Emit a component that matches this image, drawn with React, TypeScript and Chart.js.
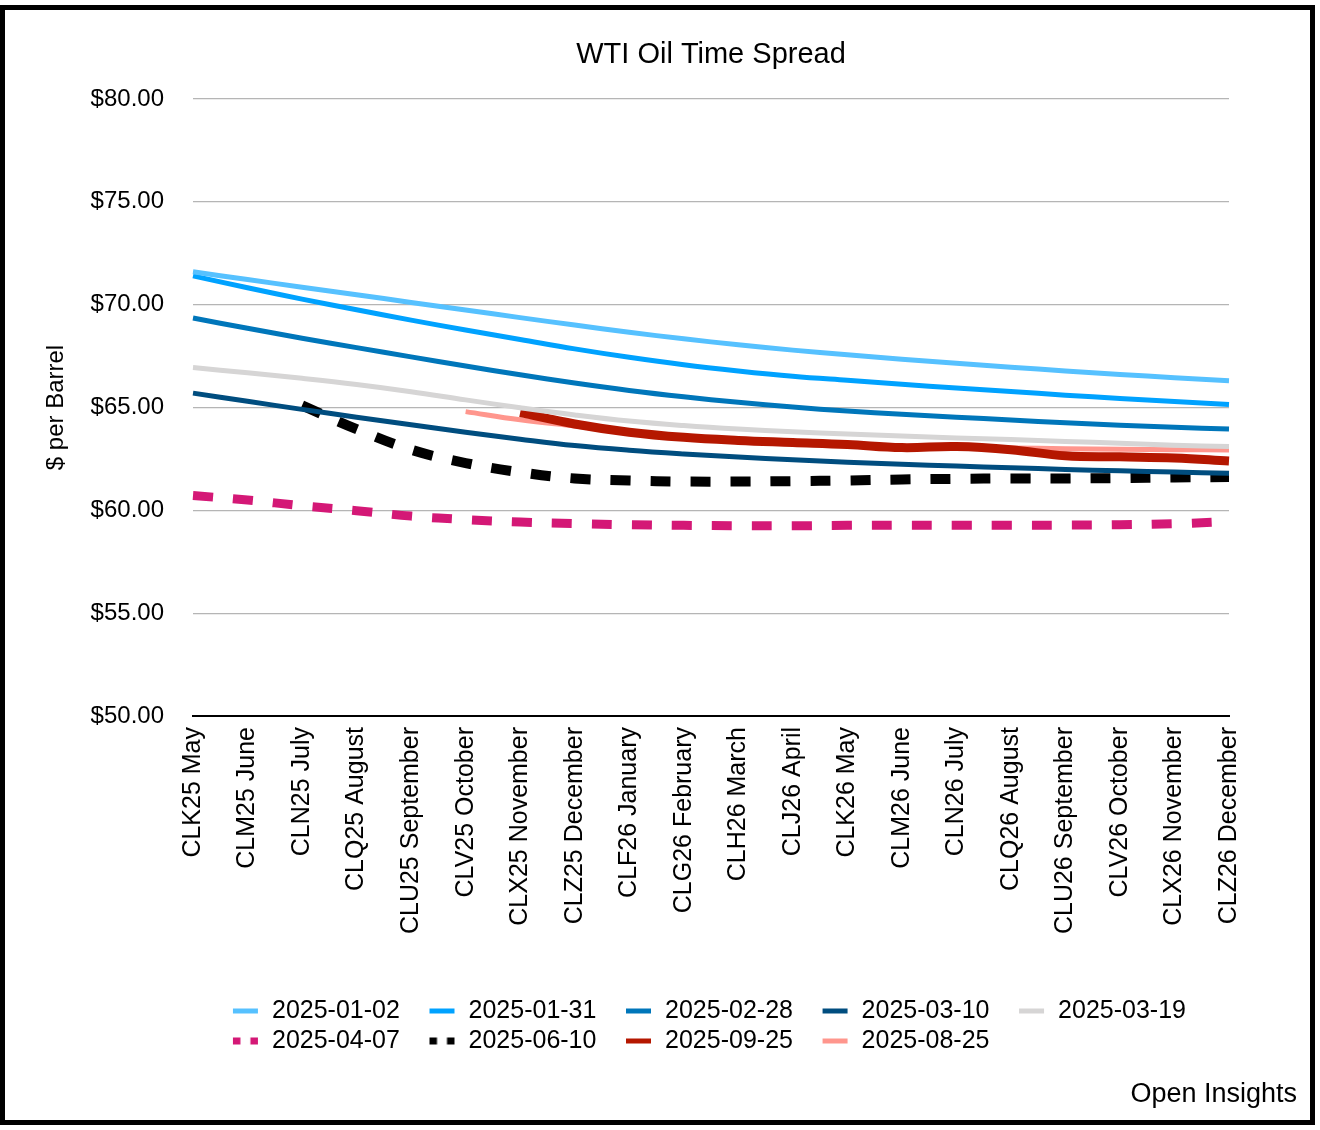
import { useEffect, useRef } from 'react';
import { Chart, registerables } from 'chart.js';

Chart.register(...registerables);
Chart.defaults.font.family = "'Liberation Sans', Arial, Helvetica, sans-serif";
Chart.defaults.color = '#000';

const CATEGORIES = [
  'CLK25 May', 'CLM25 June', 'CLN25 July', 'CLQ25 August', 'CLU25 September',
  'CLV25 October', 'CLX25 November', 'CLZ25 December', 'CLF26 January', 'CLG26 February',
  'CLH26 March', 'CLJ26 April', 'CLK26 May', 'CLM26 June', 'CLN26 July',
  'CLQ26 August', 'CLU26 September', 'CLV26 October', 'CLX26 November', 'CLZ26 December',
];

const SERIES_NAMES = [
  '2025-01-02', '2025-01-31', '2025-02-28', '2025-03-10', '2025-03-19',
  '2025-04-07', '2025-06-10', '2025-09-25', '2025-08-25',
];

const S_2025_01_02 = [71.6, 71.22, 70.85, 70.48, 70.11, 69.74, 69.37, 69.01, 68.66, 68.34, 68.05, 67.79, 67.56, 67.35, 67.15, 66.96, 66.78, 66.61, 66.45, 66.3];
const S_2025_01_31 = [71.4, 70.82, 70.27, 69.75, 69.25, 68.77, 68.31, 67.85, 67.44, 67.08, 66.78, 66.52, 66.32, 66.13, 65.95, 65.78, 65.6, 65.44, 65.29, 65.15];
const S_2025_02_28 = [69.35, 68.85, 68.37, 67.91, 67.46, 67.02, 66.59, 66.19, 65.83, 65.52, 65.25, 65.02, 64.83, 64.67, 64.53, 64.39, 64.26, 64.14, 64.04, 63.95];
const S_2025_03_10 = [65.7, 65.3, 64.91, 64.53, 64.16, 63.8, 63.46, 63.15, 62.92, 62.74, 62.59, 62.46, 62.34, 62.24, 62.15, 62.07, 61.99, 61.92, 61.86, 61.8];
const S_2025_03_19 = [66.94, 66.69, 66.42, 66.12, 65.77, 65.37, 64.99, 64.64, 64.34, 64.12, 63.95, 63.82, 63.71, 63.61, 63.52, 63.44, 63.35, 63.26, 63.17, 63.1];
const S_2025_04_07 = [60.72, 60.5, 60.22, 59.98, 59.72, 59.55, 59.43, 59.36, 59.3, 59.27, 59.25, 59.25, 59.27, 59.28, 59.28, 59.28, 59.28, 59.3, 59.35, 59.45];
const S_2025_06_10 = [null, null, 65.1, 63.95, 62.95, 62.3, 61.85, 61.55, 61.45, 61.4, 61.4, 61.42, 61.45, 61.5, 61.53, 61.55, 61.55, 61.57, 61.6, 61.62];
const S_2025_09_25 = [null, null, null, null, null, null, 64.75, 64.2, 63.8, 63.55, 63.4, 63.3, 63.2, 63.05, 63.1, 62.95, 62.65, 62.6, 62.55, 62.4];
const S_2025_08_25 = [null, null, null, null, null, 64.8, 64.4, 64.1, 63.8, 63.55, 63.4, 63.3, 63.2, 63.12, 63.08, 63.03, 63.0, 62.97, 62.95, 62.93];

const SERIES_VALUES = [
  S_2025_01_02, S_2025_01_31, S_2025_02_28, S_2025_03_10, S_2025_03_19,
  S_2025_04_07, S_2025_06_10, S_2025_09_25, S_2025_08_25,
];

const Y_MIN = 50;
const Y_MAX = 80;
const Y_STEP = 5;

const STYLES = [
  { color: '#56C1FF', width: 5, dash: [] as number[] },
  { color: '#00A2FF', width: 5, dash: [] as number[] },
  { color: '#0076BA', width: 5, dash: [] as number[] },
  { color: '#004D7F', width: 5, dash: [] as number[] },
  { color: '#D6D5D5', width: 5, dash: [] as number[] },
  { color: '#D41876', width: 9, dash: [20, 20] },
  { color: '#000000', width: 10, dash: [20, 20] },
  { color: '#B51700', width: 9, dash: [] as number[] },
  { color: '#FF968D', width: 5, dash: [] as number[] },
];

function makeMarker(color: string, dashed: boolean) {
  const c = document.createElement('canvas');
  c.width = 50;
  c.height = 10;
  const ctx = c.getContext('2d')!;
  ctx.strokeStyle = color;
  ctx.lineWidth = dashed ? 7 : 5;
  ctx.lineCap = 'butt';
  if (dashed) ctx.setLineDash([7.5, 10]);
  ctx.beginPath();
  ctx.moveTo(24, 5);
  ctx.lineTo(49, 5);
  ctx.stroke();
  return c;
}

const legendShift = {
  id: 'legendShift',
  afterLayout(chart: any) {
    const lg = chart.legend;
    if (lg) {
      lg.left += 10.35;
      lg.right += 10.35;
    }
  },
};

export default function App() {
  const ref = useRef<HTMLCanvasElement | null>(null);

  useEffect(() => {
    if (!ref.current) return;
    const markers = STYLES.map((s) => makeMarker(s.color, s.dash.length > 0));
    const chart = new Chart(ref.current, {
      type: 'line',
      data: {
        labels: CATEGORIES,
        datasets: SERIES_NAMES.map((name, i) => ({
          label: name,
          data: SERIES_VALUES[i],
          borderColor: STYLES[i].color,
          backgroundColor: STYLES[i].color,
          borderWidth: STYLES[i].width,
          borderDash: STYLES[i].dash,
          borderCapStyle: 'butt',
          borderJoinStyle: 'round',
          pointRadius: 0,
          pointHoverRadius: 0,
          fill: false,
          tension: 0.4,
          spanGaps: false,
        })),
      },
      options: {
        responsive: false,
        animation: false,
        events: [],
        layout: { padding: { left: 0, right: 91, top: 0, bottom: 66.5 } },
        plugins: {
          title: {
            display: true,
            fullSize: false,
            text: 'WTI Oil Time Spread',
            color: '#000',
            font: { size: 29, weight: 'normal' },
            padding: { top: 37.6, bottom: 26.6 },
          },
          legend: {
            position: 'bottom',
            align: 'start',
            fullSize: false,
            labels: {
              usePointStyle: true,
              pointStyleWidth: 51.15,
              padding: 5,
              color: '#000',
              font: { size: 25 },
              generateLabels: (c: any) =>
                (Chart.defaults.plugins.legend.labels as any)
                  .generateLabels(c)
                  .map((item: any) => ({ ...item, pointStyle: markers[item.datasetIndex] })),
            },
          },
          tooltip: { enabled: false },
        },
        scales: {
          x: {
            type: 'category',
            grid: { display: false, drawTicks: false },
            border: { display: true, color: '#000', width: 2 },
            ticks: {
              autoSkip: false,
              maxRotation: 90,
              minRotation: 90,
              padding: 11,
              color: '#000',
              font: { size: 25 },
            },
            afterFit: (s: any) => {
              s.height = 277.5;
            },
          },
          y: {
            min: Y_MIN,
            max: Y_MAX,
            ticks: {
              stepSize: Y_STEP,
              padding: 29,
              color: '#000',
              font: { size: 24 },
              callback: (v: any) => '$' + Number(v).toFixed(2),
            },
            grid: { color: '#b5b5b5', lineWidth: 1.3, drawTicks: false },
            border: { display: false },
            title: {
              display: true,
              text: '$ per Barrel',
              color: '#000',
              font: { size: 24 },
              padding: { top: 42, bottom: 0 },
            },
            afterFit: (s: any) => {
              s.width = 193;
            },
          },
        },
      } as any,
      plugins: [legendShift],
    });
    return () => chart.destroy();
  }, []);

  return (
    <div style={{ position: 'absolute', left: 0, top: 0, width: 1320, height: 1130, overflow: 'hidden', background: '#fff' }}>
      <div
        style={{
          position: 'absolute', left: 0, top: 5, width: 1315, height: 1120,
          border: '5px solid #000', boxSizing: 'border-box',
        }}
      />
      <canvas ref={ref} width={1320} height={1130} style={{ position: 'absolute', left: 0, top: 0, width: 1320, height: 1130 }} />
      <div
        style={{
          position: 'absolute', left: 0, top: 1078, width: 1297, textAlign: 'right',
          fontFamily: "'Liberation Sans', Arial, Helvetica, sans-serif", fontSize: 27, lineHeight: '30px', color: '#000',
        }}
      >
        Open Insights
      </div>
    </div>
  );
}
